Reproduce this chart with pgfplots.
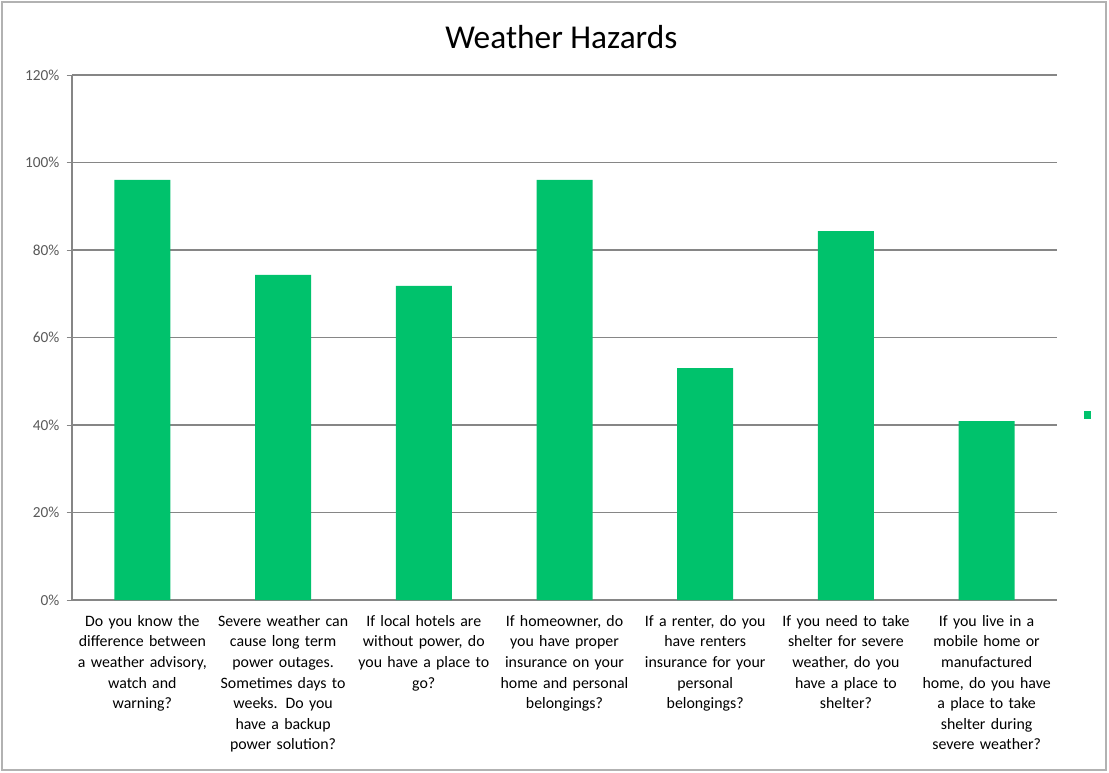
\documentclass[border=0pt]{standalone}
\usepackage{pgfplots}
\pgfplotsset{compat=1.18}
\usepackage{fontspec}
\setmainfont{Carlito}
\definecolor{bargreen}{RGB}{0,194,108}
\definecolor{gridgray}{RGB}{134,134,134}
\definecolor{txtgray}{RGB}{89,89,89}
\begin{document}
\begin{tikzpicture}
\path[use as bounding box] (0pt,0pt) rectangle (831.75pt,579pt);
\draw[gray!60,line width=0.8pt] (1.5pt,1.5pt) rectangle (829.5pt,577.5pt);
\node[font=\fontsize{25}{30}\selectfont] at (421pt,551pt) {Weather Hazards};
\begin{axis}[
  at={(54pt,129pt)}, anchor=south west,
  scale only axis, width=738.75pt, height=393.75pt,
  ymin=0, ymax=1.2,
  ytick={0,0.2,0.4,0.6,0.8,1.0,1.2},
  yticklabels={0\%,20\%,40\%,60\%,80\%,100\%,120\%},
  yticklabel style={font=\fontsize{11.5}{13}\selectfont, text=txtgray, xshift=-2pt},
  ymajorgrids, grid style={gridgray, line width=0.8pt},
  xmin=-0.5, xmax=6.5,
  xtick={0,1,2,3,4,5,6},
  major x tick style={draw=none},
  xticklabels={
    {Do you know the\\difference between\\a weather advisory,\\watch and\\warning?},
    {Severe weather can\\cause long term\\power outages.\\Sometimes days to\\weeks. Do you\\have a backup\\power solution?},
    {If local hotels are\\without power, do\\you have a place to\\go?},
    {If homeowner, do\\you have proper\\insurance on your\\home and personal\\belongings?},
    {If a renter, do you\\have renters\\insurance for your\\personal\\belongings?},
    {If you need to take\\shelter for severe\\weather, do you\\have a place to\\shelter?},
    {If you live in a\\mobile home or\\manufactured\\home, do you have\\a place to take\\shelter during\\severe weather?}},
  xticklabel style={font=\fontsize{11.9}{15.4}\selectfont, text width=115pt, align=center, yshift=-4pt},
  extra x ticks={-0.5,0.5,1.5,2.5,3.5,4.5,5.5,6.5},
  extra x tick labels={},
  extra x tick style={grid=none, major tick length=4pt, tick align=outside, tick style={gridgray}},
  axis x line*=bottom, axis y line*=left,
  axis line style={gridgray, line width=0.8pt},
  ytick style={gridgray},
  tick align=outside, major tick length=4pt,
  ybar, bar width=42pt,
  legend style={at={(1.0335,0.352)}, anchor=center, draw=none, fill=none, inner sep=0pt},
  legend image code/.code={\fill[bargreen] (-2.5pt,-3pt) rectangle (2.5pt,3pt);},
]
\addplot[fill=bargreen, draw=none] coordinates {
(0,0.96) (1,0.743) (2,0.718) (3,0.96) (4,0.53) (5,0.843) (6,0.409)};
\addlegendentry{}
\end{axis}
\end{tikzpicture}
\end{document}
